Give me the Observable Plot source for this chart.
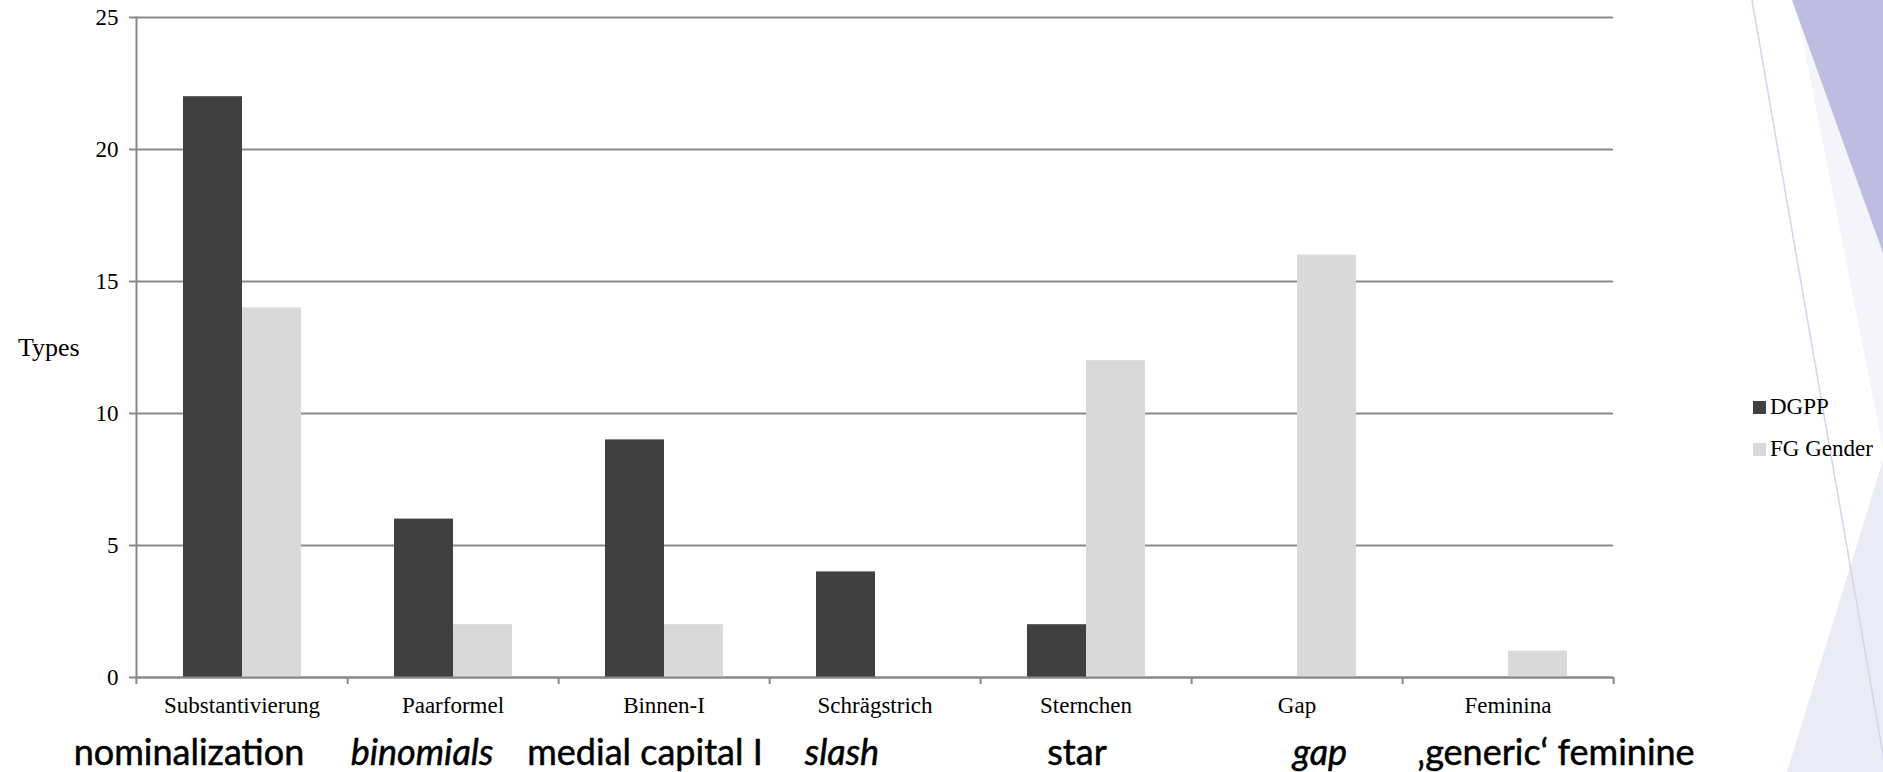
<!DOCTYPE html>
<html>
<head>
<meta charset="utf-8">
<script src="https://cdn.jsdelivr.net/npm/d3@7"></script>
<script src="https://cdn.jsdelivr.net/npm/@observablehq/plot@0.6"></script>
<style>
  html, body { margin: 0; padding: 0; background: #fff; }
  #page { position: relative; width: 1883px; height: 772px; overflow: hidden; }
  #decor { position: absolute; left: 0; top: 0; }
  #chart { position: absolute; left: 0; top: 0; }
  .abs { position: absolute; white-space: nowrap; }
  .serif { font-family: "Liberation Serif", "Times New Roman", serif; color: #000; }
  .eng { font-family: Lato, "Open Sans", sans-serif; color: #000; transform: translateX(-50%); -webkit-text-stroke: 0.5px #000; }
</style>
</head>
<body>
<div id="page">
  <svg id="decor" width="1883" height="772"></svg>
  <div id="chart"></div>
</div>
<script>
// ---- data ----
const categories = ["Substantivierung", "Paarformel", "Binnen-I", "Schrägstrich", "Sternchen", "Gap", "Feminina"];
const series = ["DGPP", "FG Gender"];
const dgpp = [22, 6, 9, 4, 2, 0, 0];
const fgGender = [14, 2, 2, 0, 12, 16, 1];
const yTicks = [0, 5, 10, 15, 20, 25];
const yLabel = "Types";
const englishLabels = ["nominalization", "binomials", "medial capital I", "slash", "star", "gap", "‚generic‘ feminine"];
const englishItalic = [false, true, false, true, false, true, false];
const englishCenters = [189, 422, 645, 842, 1077, 1320, 1556];

// ---- styling / layout ----
const colors = ["#404040", "#d9d9d9"];
const gridColor = "#888888";
const W = 1640, H = 725;
const mL = 135, mR = 26, mT = 17, mB = 48;
const step = (W - mL - mR) / categories.length;
const serifFont = "Liberation Serif, Times New Roman, serif";

const rows = [];
categories.forEach((c, i) => {
  rows.push({category: c, series: series[0], value: dgpp[i]});
  rows.push({category: c, series: series[1], value: fgGender[i]});
});

const chart = Plot.plot({
  width: W, height: H,
  marginTop: mT, marginBottom: mB, marginLeft: mL, marginRight: mR,
  style: {background: "transparent", fontFamily: serifFont, fontSize: "23px", color: "#000"},
  fx: {domain: categories, padding: 0, axis: null},
  x: {domain: series, axis: null, paddingInner: 0, paddingOuter: 0.76},
  y: {domain: [0, 25], axis: null},
  color: {domain: series, range: colors},
  marks: [
    Plot.gridY(yTicks, {stroke: gridColor, strokeOpacity: 1, strokeWidth: 2}),
    Plot.barY(rows, {fx: "category", x: "series", y: "value", fill: "series"}),
    Plot.ruleY([0], {stroke: gridColor, strokeWidth: 2}),
    Plot.frame({anchor: "left", facet: "super", stroke: gridColor, strokeWidth: 2}),
    Plot.axisY(yTicks, {tickSize: 7, tickPadding: 11, stroke: gridColor, strokeWidth: 2, fontSize: 23, fill: "#000", label: null}),
    Plot.axisFx({anchor: "bottom", tickSize: 0, tickPadding: 19, label: null, fontSize: 23, fill: "#000"}),
    Plot.axisFx({anchor: "bottom", tickSize: 7, tickFormat: () => "", label: null, dx: step / 2, stroke: gridColor, strokeWidth: 2}),
    Plot.axisFx({anchor: "bottom", ticks: [categories[0]], tickSize: 7, tickFormat: () => "", label: null, dx: -step / 2, stroke: gridColor, strokeWidth: 2})
  ]
});
document.getElementById("chart").appendChild(chart);

const page = document.getElementById("page");

// y label
const yl = document.createElement("div");
yl.className = "abs serif";
yl.style.cssText = "left:18px;top:335px;font-size:26px;line-height:26px;";
yl.textContent = yLabel;
page.appendChild(yl);

// legend
series.forEach((s, i) => {
  const sq = document.createElement("div");
  sq.className = "abs";
  sq.style.cssText = `left:1753px;top:${401 + i * 42}px;width:13px;height:13px;background:${colors[i]};`;
  page.appendChild(sq);
  const t = document.createElement("div");
  t.className = "abs serif";
  t.style.cssText = `left:1770px;top:${395 + i * 42}px;font-size:23px;line-height:23px;`;
  t.textContent = s;
  page.appendChild(t);
});

// English glosses
englishLabels.forEach((lab, i) => {
  const t = document.createElement("div");
  t.className = "abs eng";
  t.style.cssText = `left:${englishCenters[i]}px;top:733px;font-size:36px;line-height:36px;font-style:${englishItalic[i] ? "italic" : "normal"};`;
  t.textContent = lab;
  page.appendChild(t);
});

// decorative background shapes
const decor = d3.select("#decor");
decor.append("polygon").attr("points", "1795,0 1883,0 1883,449").attr("fill", "#f4f4fa");
decor.append("polygon").attr("points", "1792,0 1883,0 1883,253").attr("fill", "#bebce0");
decor.append("polygon").attr("points", "1883,460 1883,772 1787,772").attr("fill", "#ebebf5");
decor.append("line").attr("x1", 1752).attr("y1", 0).attr("x2", 1886).attr("y2", 772).attr("stroke", "#d5d3ee").attr("stroke-width", 1.5);
</script>
</body>
</html>
